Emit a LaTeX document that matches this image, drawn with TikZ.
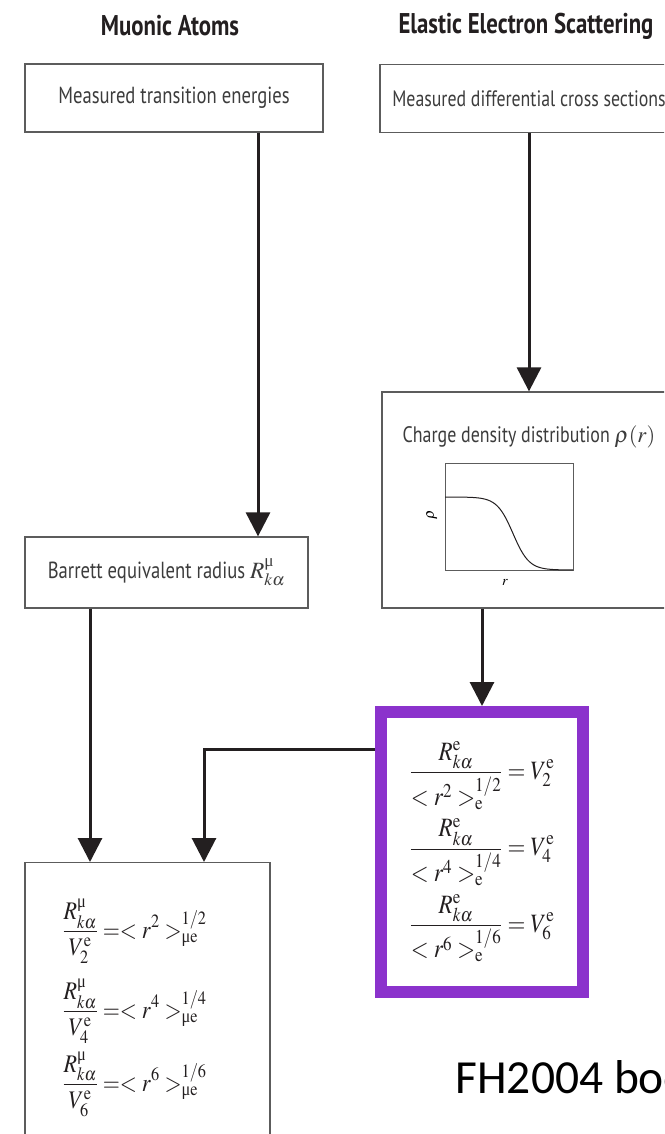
\documentclass[tikz,border=0pt]{standalone}
\usepackage{amsmath}
\usepackage{mathptmx}
\usepackage[no-math]{fontspec}
\setmainfont{PT Sans}[FakeStretch=0.8]
\newfontfamily\notefont{Carlito}
\newfontfamily\grkfont{Liberation Serif}
\usetikzlibrary{positioning,arrows.meta}
\definecolor{ink}{HTML}{231F20}
\definecolor{frame}{HTML}{5C5C5C}
\definecolor{label}{HTML}{3C3C3C}
\definecolor{hilite}{HTML}{8B32CC}
\newcommand\umu{\text{\grkfont μ}}
\newcommand\tall[1]{\scalebox{1}[1.15]{$\displaystyle#1$}}

\begin{document}
\begin{tikzpicture}[x=1pt,y=-1pt,
  box/.style={draw=frame,line width=1.3pt,inner sep=0pt},
  boxtext/.style={font=\fontsize{23.3}{26}\selectfont,text=label},
  head/.style={font=\bfseries\fontsize{28.5}{32}\selectfont,text=ink},
  eqs/.style={font=\fontsize{22}{26}\selectfont,align=left,text=ink},
  flow/.style={draw=ink,line width=3pt,-{Triangle[length=24pt,width=24pt]}}]
\useasboundingbox (0,0) rectangle (664,1134);
\clip (0,0) rectangle (664,1134);
\fill[white] (0,0) rectangle (664,1134);
% column heads
\node[head] (tmu) at (170,26) {Muonic Atoms};
\node[head] (tel) at (526,26) {Elastic Electron Scattering};
% boxes
\node[box,boxtext,minimum width=298pt,minimum height=68pt] (meas1) at (174,98) {Measured transition energies};
\node[box,boxtext,font=\fontsize{22.3}{26}\selectfont,minimum width=298pt,minimum height=68pt] (meas2) at (529,98.5) {Measured differential cross sections};
\node[box,boxtext,minimum width=283pt,minimum height=71pt] (barrett) at (166.5,572.5) {Barrett equivalent radius $R^{\umu}_{k\alpha}$};
\node[box,minimum width=294pt,minimum height=216pt] (charge) at (529,500) {};
\node[boxtext,font=\fontsize{22.4}{26}\selectfont] (chtext) at ([yshift=-46pt]charge.north) {Charge density distribution $\rho(r)$};
% small Fermi-type density sketch
\draw[frame,line width=1pt] (445,463) rectangle (573,570);
\draw[ink,line width=1pt] plot[domain=445:573,samples=60] (\x,{570-73/(1+exp((\x-513)/8))});
\node[font=\fontsize{15}{16}\selectfont,rotate=90] (rholab) at (432,515) {$\rho$};
\node[font=\fontsize{14}{16}\selectfont] (rlab) at (505,582) {$r$};
% equation boxes
\node[draw=hilite,line width=12pt,minimum width=202pt,minimum height=280pt,eqs,font=\fontsize{23}{26}\selectfont] (veq) at (482,852) {%
\tall{\frac{R^{\mathrm{e}}_{k\alpha}}{<r^{2}>^{1/2}_{\mathrm{e}}}=V^{\mathrm{e}}_{2}}\\[8pt]
\tall{\frac{R^{\mathrm{e}}_{k\alpha}}{<r^{4}>^{1/4}_{\mathrm{e}}}=V^{\mathrm{e}}_{4}}\\[8pt]
\tall{\frac{R^{\mathrm{e}}_{k\alpha}}{<r^{6}>^{1/6}_{\mathrm{e}}}=V^{\mathrm{e}}_{6}}};
\node[box,minimum width=245pt,minimum height=300pt,anchor=north] (mubox) at (147.5,862) {};
\node[eqs,anchor=north west] (mueqs) at (59,895) {%
\tall{\frac{R^{\umu}_{k\alpha}}{V^{\mathrm{e}}_{2}}=<r^{2}>^{1/2}_{\umu\mathrm{e}}}\\[14pt]
\tall{\frac{R^{\umu}_{k\alpha}}{V^{\mathrm{e}}_{4}}=<r^{4}>^{1/4}_{\umu\mathrm{e}}}\\[7pt]
\tall{\frac{R^{\umu}_{k\alpha}}{V^{\mathrm{e}}_{6}}=<r^{6}>^{1/6}_{\umu\mathrm{e}}}};
% connectors
\draw[flow] ([xshift=84pt]meas1.south) -- ([xshift=84pt]meas1.south |- barrett.north);
\draw[flow] (meas2.south) -- (meas2.south |- charge.north);
\draw[flow] ([xshift=-76.5pt]barrett.south) -- ([xshift=-76.5pt]barrett.south |- mubox.north);
\draw[flow] ([xshift=-47pt]charge.south) -- ([xshift=-47pt]charge.south |- veq.north);
\draw[flow] ([yshift=103pt]veq.west) -| ([xshift=56.5pt]mubox.north);
\node[anchor=base west,font=\notefont\fontsize{47.5}{50}\selectfont] (src) at (452,1093) {FH2004 boo};
\end{tikzpicture}
\end{document}
